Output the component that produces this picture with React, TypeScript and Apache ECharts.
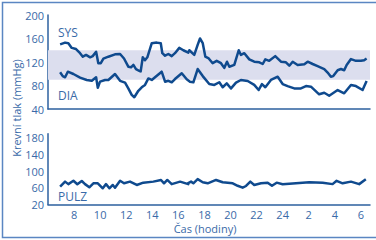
import React, { useEffect, useRef } from "react";
import * as echarts from "echarts";

// [hour, mmHg]; hours after 24 belong to next day
const sysData: number[][] = [
  [6.93, 150], [7.31, 153], [7.56, 152], [7.82, 144], [8.15, 142], [8.46, 135], [8.67, 129],
  [8.92, 132], [9.23, 128], [9.43, 130], [9.69, 137.5], [9.86, 118], [10.05, 118], [10.25, 125.6],
  [10.63, 129], [11.14, 133], [11.53, 133.6], [11.83, 126], [12.16, 112], [12.37, 111], [12.55, 115],
  [12.75, 108], [13.01, 104.7], [13.11, 104], [13.27, 128], [13.44, 123], [13.62, 128], [13.96, 152],
  [14.34, 153], [14.65, 152], [14.77, 135], [14.98, 130.7], [15.23, 133.6], [15.49, 130], [15.74, 135],
  [16.07, 144], [16.38, 140], [16.76, 136], [16.84, 140], [17.22, 132], [17.48, 149], [17.66, 160],
  [17.87, 152], [18.07, 129], [18.33, 126], [18.63, 118], [18.94, 122], [19.27, 118], [19.52, 110],
  [19.73, 120.5], [19.91, 112], [20.29, 115], [20.63, 140], [20.8, 132], [21.06, 135], [21.44, 124.5],
  [21.82, 120.5], [22.21, 119.5], [22.47, 116.6], [22.67, 124.5], [22.97, 122], [23.43, 130],
  [23.87, 120.5], [24.25, 119.5], [24.51, 113.7], [24.77, 120.5], [25.15, 115], [25.66, 116],
  [25.92, 120.5], [26.3, 116.6], [26.68, 113], [27.19, 108], [27.45, 102], [27.7, 95], [27.88, 96],
  [28.22, 106], [28.47, 108], [28.72, 106], [28.91, 115], [29.24, 125], [29.62, 122], [30.0, 122],
  [30.25, 123], [30.44, 126],
];

const diaData: number[][] = [
  [6.93, 102.5], [7.13, 96], [7.31, 94], [7.52, 103.5], [7.95, 99.6], [8.46, 93.3], [8.97, 89.4],
  [9.36, 88], [9.69, 94], [9.82, 76], [9.99, 86.5], [10.38, 89.4], [10.63, 89.4], [11.14, 99.6],
  [11.53, 88], [11.91, 84.8], [12.16, 75], [12.42, 64], [12.62, 60], [12.93, 71], [13.19, 77],
  [13.44, 81], [13.7, 92], [13.96, 89.4], [14.21, 94], [14.72, 103.5], [14.98, 86.5], [15.23, 88],
  [15.49, 85.5], [15.74, 91], [16.26, 100.8], [16.64, 90.6], [16.89, 86.5], [17.15, 85.5],
  [17.48, 108], [17.87, 96], [18.37, 82.5], [18.76, 81], [19.14, 85.5], [19.4, 77], [19.71, 83.7],
  [20.04, 75], [20.42, 84.8], [20.8, 89.4], [21.32, 87.7], [21.82, 81], [22.16, 72.3], [22.41, 82.5],
  [22.67, 77], [23.1, 89.4], [23.62, 95], [24.0, 82.5], [24.38, 79], [24.89, 75], [25.4, 75],
  [25.79, 79], [26.17, 78], [26.8, 65], [27.19, 67.7], [27.57, 62.6], [28.22, 72.3], [28.72, 66.7],
  [29.24, 81], [29.62, 79], [30.13, 72.3], [30.44, 87.7],
];

const pulzData: number[][] = [
  [6.93, 62.8], [7.31, 75], [7.56, 69], [7.95, 77], [8.25, 68.6], [8.59, 76.5], [8.84, 69],
  [9.17, 61.4], [9.48, 71], [9.82, 71], [10.2, 59], [10.45, 69], [10.71, 59], [10.97, 67],
  [11.14, 60.4], [11.53, 77], [11.83, 71], [12.29, 75], [12.81, 67], [13.31, 72.5], [14.08, 75],
  [14.67, 79], [14.9, 71], [15.15, 79], [15.49, 69], [16.13, 75], [16.76, 69], [16.72, 71],
  [16.97, 75], [17.15, 71], [17.48, 81], [17.87, 73.4], [18.25, 71], [18.89, 79], [19.4, 73.4],
  [20.17, 71], [20.55, 65], [20.93, 60.4], [21.19, 64.5], [21.52, 75], [21.82, 67], [22.34, 71],
  [22.85, 72.5], [23.18, 65], [23.54, 72.5], [24.0, 68.6], [25.02, 71], [26.04, 73.4], [27.07, 72.5],
  [27.83, 69], [28.14, 77], [28.6, 71], [29.24, 75], [29.87, 69], [30.38, 80.6],
];

const bpTicks = { min: 40, max: 200, interval: 40 };
const pulzTicks = { min: 20, max: 190, interval: 40 };
const hourTicks = { min: 6, max: 30.7, interval: 2 };
const normalBand = [90, 140];

const LINE = "#0f4a8e";
const AXIS = "#2c609f";
const TEXT = "#3a6aa8";
const FONT = "'Open Sans', sans-serif";

export default function App() {
  const ref = useRef<HTMLDivElement>(null);
  useEffect(() => {
    if (!ref.current) return;
    const chart = echarts.init(ref.current, undefined, { renderer: "svg" });
    const axisLine = { show: true, lineStyle: { color: AXIS, width: 1.5 } };
    const yLabel = { color: TEXT, fontSize: 11, fontFamily: FONT, margin: 4 };
    const lineSeries = (data: number[][], x: number, y: number, extra: any = {}) => ({
      type: "line",
      xAxisIndex: x,
      yAxisIndex: y,
      data,
      showSymbol: false,
      symbol: "none",
      lineStyle: { color: LINE, width: 2.5, join: "round" },
      z: 3,
      ...extra,
    });
    chart.setOption({
      animation: false,
      grid: [
        { left: 48, top: 15, right: 6, height: 94 },
        { left: 48, top: 133.8, right: 6, height: 70.7 },
      ],
      xAxis: [
        {
          gridIndex: 0, type: "value", ...hourTicks,
          axisLine, axisTick: { show: false }, axisLabel: { show: false }, splitLine: { show: false },
        },
        {
          gridIndex: 1, type: "value", ...hourTicks,
          axisLine, axisTick: { show: false }, splitLine: { show: false },
          axisLabel: {
            color: TEXT, fontSize: 11, fontFamily: FONT, margin: 4,
            showMinLabel: false, showMaxLabel: false,
            formatter: (v: number) => String(v > 24 ? v - 24 : v),
          },
        },
      ],
      yAxis: [
        {
          gridIndex: 0, type: "value", ...bpTicks,
          axisLine, axisTick: { show: false }, splitLine: { show: false }, axisLabel: yLabel,
        },
        {
          gridIndex: 1, type: "value", ...pulzTicks,
          axisLine, axisTick: { show: false }, splitLine: { show: false },
          axisLabel: { ...yLabel, showMaxLabel: false },
        },
      ],
      series: [
        lineSeries(sysData, 0, 0, {
          markArea: {
            silent: true,
            itemStyle: { color: "#dcdeee" },
            data: [[{ yAxis: normalBand[0] }, { yAxis: normalBand[1] }]],
          },
        }),
        lineSeries(diaData, 0, 0),
        lineSeries(pulzData, 1, 1),
      ],
      graphic: [
        {
          type: "rect", silent: true,
          shape: { x: 2.5, y: 2.5, width: 390, height: 235 },
          style: { fill: "none", stroke: "#5a86c2", lineWidth: 1.5 },
        },
        { type: "text", x: 58, y: 26, style: { text: "SYS", fill: TEXT, font: `12px ${FONT}` } },
        { type: "text", x: 58, y: 89, style: { text: "DIA", fill: TEXT, font: `12px ${FONT}` } },
        { type: "text", x: 58, y: 190, style: { text: "PULZ", fill: TEXT, font: `12px ${FONT}` } },
        {
          type: "text", x: 205, y: 228,
          style: { text: "Čas (hodiny)", fill: TEXT, font: `11px ${FONT}`, align: "center", verticalAlign: "middle" },
        },
        {
          type: "text", x: 16, y: 108, rotation: Math.PI / 2,
          style: { text: "Krevní tlak (mmHg)", fill: TEXT, font: `11px ${FONT}`, align: "center", verticalAlign: "middle" },
        },
      ],
    });
    return () => chart.dispose();
  }, []);
  return (
    <div
      ref={ref}
      style={{ position: "fixed", left: 0, top: 0, width: 376, height: 240, background: "#fff" }}
    />
  );
}
